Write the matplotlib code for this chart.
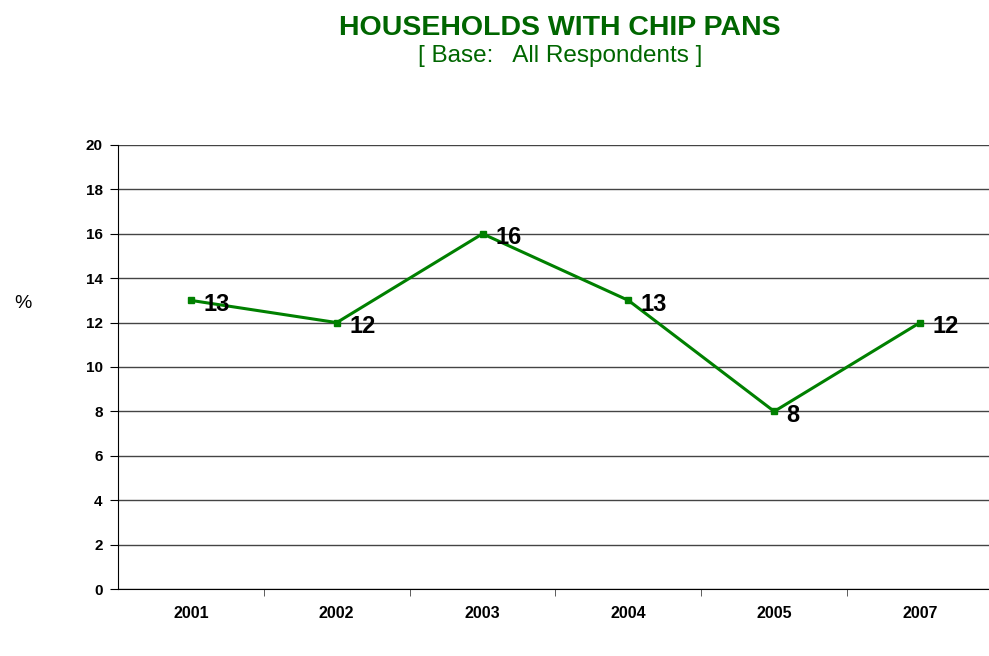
import matplotlib
matplotlib.use("Agg")
import matplotlib.pyplot as plt
import numpy as np

plt.rcParams['font.family'] = ['Liberation Sans', 'DejaVu Sans']

years = ["2001", "2002", "2003", "2004", "2005", "2007"]
pct = [13, 12, 16, 13, 8, 12]
yticks = [0, 2, 4, 6, 8, 10, 12, 14, 16, 18, 20]

fig = plt.figure(figsize=(9.89, 6.56), dpi=100)
ax = fig.add_axes([0.1193, 0.1021, 0.8847, 0.6769])

x = np.arange(len(years))
ax.plot(x, pct, color="#008000", lw=2.2, marker="s", ms=5, zorder=3)
for xi, v in zip(x, pct):
    ax.annotate("%d" % v, (xi, v), xytext=(9, -3), textcoords="offset points",
                ha="left", va="center", fontsize=17, fontweight="bold", color="black", zorder=4)

ax.set_xlim(-0.5, len(years) - 0.5)
ax.set_ylim(0, 20)
ax.set_yticks(yticks)
ax.set_yticklabels([str(t) for t in yticks], fontsize=11, fontweight="bold")
ax.set_xticks(x)
ax.set_xticklabels(years, fontsize=11.5, fontweight="bold")
ax.tick_params(axis="x", length=0, pad=12)
ax.set_xticks(x[:-1] + 0.5, minor=True)
ax.tick_params(axis="x", which="minor", length=5, direction="out", color="#444444")
ax.tick_params(axis="y", length=6, direction="out", pad=5)
ax.grid(axis="y", color="#444444", lw=1)
ax.set_axisbelow(True)
for s in ["top", "right"]:
    ax.spines[s].set_visible(False)
ax.spines["left"].set_color("black")
ax.spines["bottom"].set_color("black")

fig.text(0.023, 0.538, "%", fontsize=14, ha="center", va="center")
fig.text(0.566, 0.958, "HOUSEHOLDS WITH CHIP PANS", fontsize=20.5, fontweight="bold",
         color="#006600", ha="center", va="center")
fig.text(0.566, 0.915, "[ Base:   All Respondents ]", fontsize=17.5,
         color="#006600", ha="center", va="center")

fig.savefig("out.png", dpi=100)
